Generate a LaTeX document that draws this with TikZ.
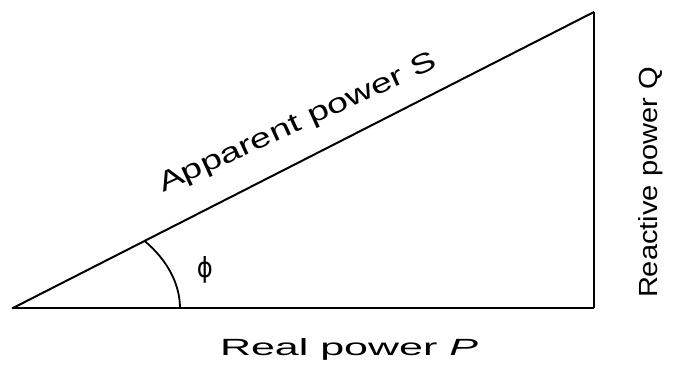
\documentclass[tikz,border=0pt]{standalone}
\usepackage{fontspec}
\setmainfont{Liberation Sans}
\newfontfamily\djsans{DejaVu Sans}
\begin{document}
\begin{tikzpicture}[x=1pt,y=1pt,
  edge/.style={draw=black,line width=2pt,line join=miter},
  lbl/.style={inner sep=0pt,outer sep=0pt,text=black}]
\fill[white] (0,0) rectangle (678,369);
\useasboundingbox (0,0) rectangle (678,369);
\coordinate (O) at (12,60.5);
\coordinate (B) at (594,60.5);
\coordinate (C) at (594,357);
\coordinate (A0) at (180,60.5);
\draw[edge] (O) -- (B);
\draw[edge,line width=2.6pt] (B) -- (C);
\draw[edge] (O) -- (C);
\draw[edge,line width=1.8pt] (A0) arc[start angle=0,end angle=37.7,x radius=168,y radius=110];
\node[lbl,anchor=base west] (real) at (220,13) {\resizebox{258pt}{17pt}{Real power \textit{P}}};
\node[lbl,anchor=base west,rotate=90] (react) at (657,71) {\resizebox{231pt}{19pt}{Reactive power Q}};
\node[lbl,anchor=base west,rotate=24.5] (app) at (163,176) {\resizebox{303pt}{19pt}{Apparent power S}};
\node[lbl] (phi) at (205,99) {\resizebox{16pt}{21pt}{\djsans ϕ}};
\end{tikzpicture}
\end{document}
